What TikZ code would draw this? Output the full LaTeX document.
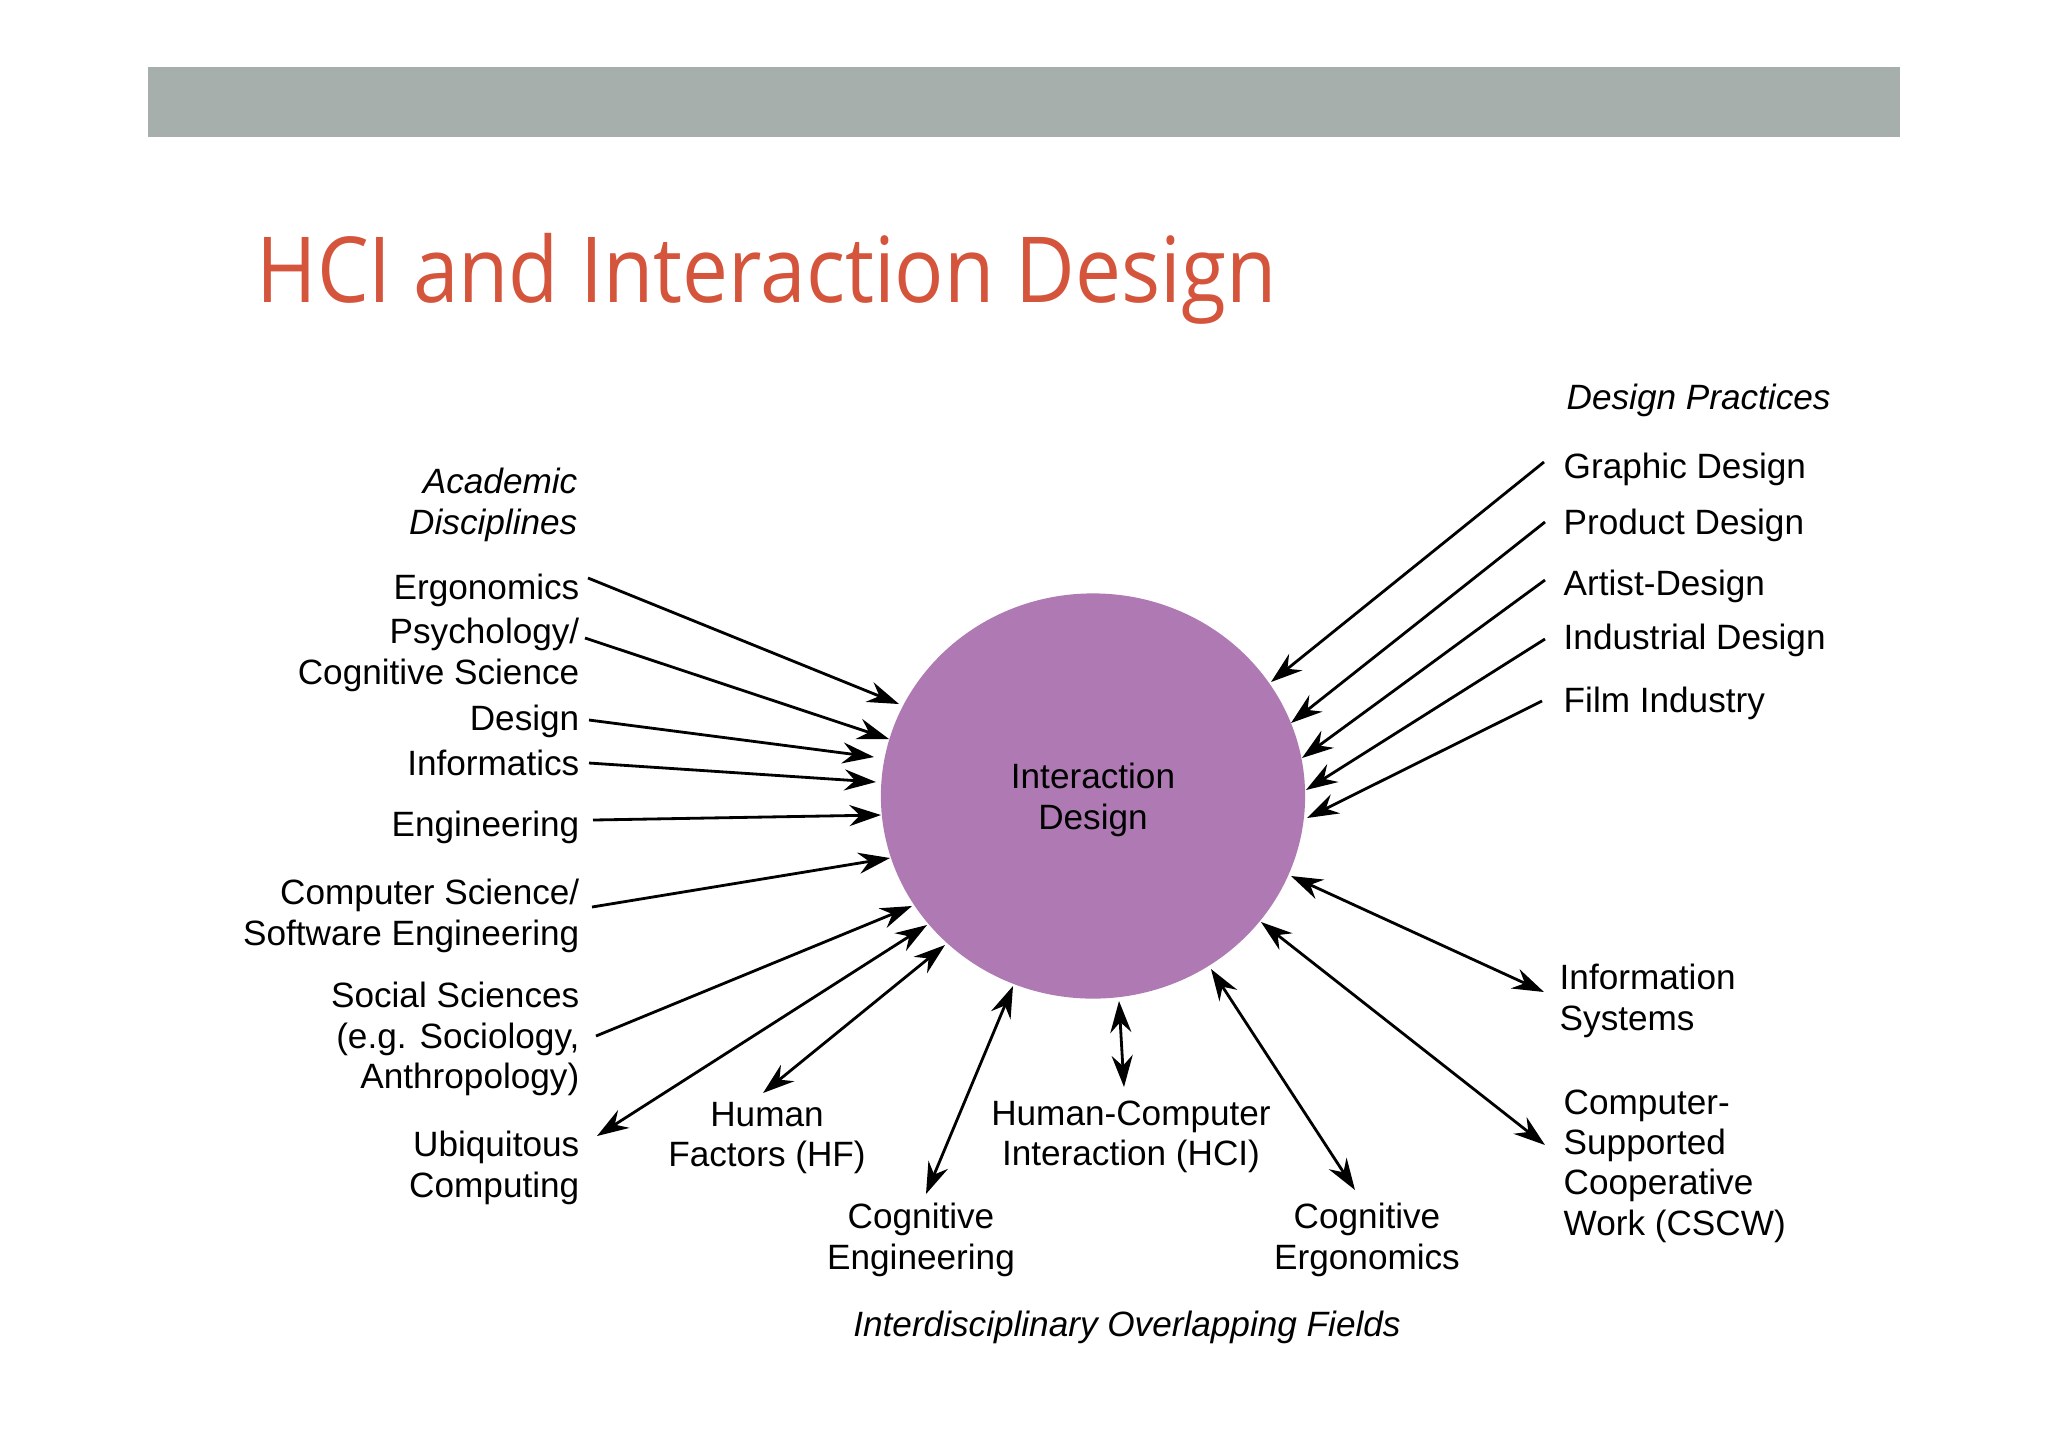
\documentclass[tikz,border=0pt]{standalone}
\usepackage{fontspec}
\setmainfont{Liberation Sans}
\newfontfamily\titlefont{Open Sans}
\usetikzlibrary{arrows.meta,shapes.geometric}
\definecolor{barGray}{RGB}{166,175,171}
\definecolor{titleRed}{RGB}{212,85,60}
\definecolor{bubble}{RGB}{175,122,180}
\begin{document}
\begin{tikzpicture}[x=0.01cm,y=-0.01cm,
  lbl/.style={font=\fontsize{10}{11.5}\selectfont, inner sep=0pt},
  lblL/.style={lbl, anchor=east, align=right},
  lblR/.style={lbl, anchor=west, align=left},
  lblC/.style={lbl, anchor=center, align=center},
  hdr/.style={font=\fontsize{10}{11.5}\selectfont\itshape, inner sep=0pt},
  tipA/.tip={Stealth[length=9pt,width=6pt,inset=3pt]},
  arr/.style={line width=0.8pt, -tipA},
  darr/.style={line width=0.8pt, tipA-tipA},
]
\useasboundingbox (0,0) rectangle (2048,1447);
\fill[white] (0,0) rectangle (2048,1447);
% header bar and title
\fill[barGray] (148,67) rectangle (1900,137);
\node[anchor=base west, inner sep=0pt, text=titleRed, font=\titlefont\fontsize{25.9}{30}\selectfont] (title) at (256,302) {\scalebox{0.90}[1]{HCI and Interaction Design}};

% central bubble
\node[ellipse, fill=bubble, minimum width=4.24cm, minimum height=4.05cm, inner sep=0pt, align=center, font=\fontsize{10}{11.5}\selectfont] (id) at (1093,796) {};
\node[lblC] (idtext) at (1093,800) {Interaction\\Design};

% left: academic disciplines
\node[hdr, anchor=east, align=right] (acad) at (578,505) {Academic\\Disciplines};
\node[lblL] (ergo) at (580,590) {Ergonomics};
\node[lblL] (psych) at (580,655) {Psychology/\\Cognitive Science};
\node[lblL] (design) at (580,721) {Design};
\node[lblL] (inform) at (580,763) {Informatics};
\node[lblL] (eng) at (580,827) {Engineering};
\node[lblL] (cs) at (580,916) {Computer Science/\\Software Engineering};
\node[lblL] (soc) at (580,1039) {Social Sciences\\(e.g. Sociology,\\Anthropology)};
\node[lblL] (ubi) at (580,1168) {Ubiquitous\\Computing};

% bottom: interdisciplinary fields
\node[lblC] (hf) at (767,1138) {Human\\Factors (HF)};
\node[lblC] (ceng) at (921,1240) {Cognitive\\Engineering};
\node[lblC] (hci) at (1131,1137) {Human-Computer\\Interaction (HCI)};
\node[lblC] (cerg) at (1367,1240) {Cognitive\\Ergonomics};
\node[hdr, anchor=center] (fields) at (1127,1327) {Interdisciplinary Overlapping Fields};

% right: design practices
\node[hdr, anchor=west] (dp) at (1566,400) {Design Practices};
\node[lblR] (graphic) at (1563,469) {Graphic Design};
\node[lblR] (product) at (1563,525) {Product Design};
\node[lblR] (artist) at (1563,586) {Artist-Design};
\node[lblR] (industrial) at (1563,640) {Industrial Design};
\node[lblR] (film) at (1563,703) {Film Industry};
\node[lblR] (infosys) at (1559,1001) {Information\\Systems};
\node[lblR] (cscw) at (1563,1166) {Computer-\\Supported\\Cooperative\\Work (CSCW)};

% connector end points
\coordinate (t1) at (588,578);   \coordinate (h1) at (899,704);
\coordinate (t2) at (585,638);   \coordinate (h2) at (889,739);
\coordinate (t3) at (589,720);   \coordinate (h3) at (874,757);
\coordinate (t4) at (589,763);   \coordinate (h4) at (876,782);
\coordinate (t5) at (593,820);   \coordinate (h5) at (881,815);
\coordinate (t6) at (592,907);   \coordinate (h6) at (890,858);
\coordinate (t7) at (596,1036);  \coordinate (h7) at (912,906);
\coordinate (t8) at (597,1136);  \coordinate (h8) at (927,925);
\coordinate (t9) at (763,1093);  \coordinate (h9) at (945,945);
\coordinate (t10) at (926,1194); \coordinate (h10) at (1013,986);
\coordinate (t11) at (1124,1087);\coordinate (h11) at (1119,1001);
\coordinate (t12) at (1355,1190);\coordinate (h12) at (1211,969);
\coordinate (t13) at (1545,1145);\coordinate (h13) at (1261,922);
\coordinate (t14) at (1544,992); \coordinate (h14) at (1291,876);
\coordinate (t15) at (1544,462); \coordinate (h15) at (1271,682);
\coordinate (t16) at (1545,522); \coordinate (h16) at (1291,723);
\coordinate (t17) at (1545,580); \coordinate (h17) at (1302,758);
\coordinate (t18) at (1545,639); \coordinate (h18) at (1306,790);
\coordinate (t19) at (1542,701); \coordinate (h19) at (1307,818);

% incoming arrows
\foreach \i in {1,2,3,4,5,6,7,15,16,17,18,19} \draw[arr] (t\i) -- (h\i);
% two-way arrows
\foreach \i in {8,9,10,11,12,13,14} \draw[darr] (t\i) -- (h\i);
\end{tikzpicture}
\end{document}
